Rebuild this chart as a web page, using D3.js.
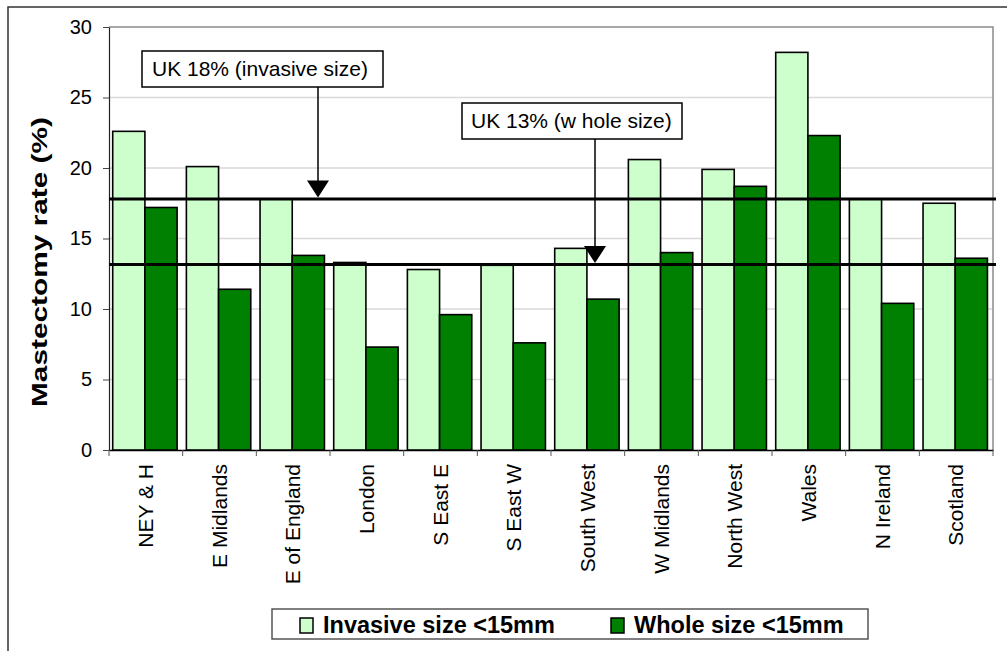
<!DOCTYPE html>
<html>
<head>
<meta charset="utf-8">
<script src="https://cdn.jsdelivr.net/npm/d3@7"></script>
<style>
  html, body { margin: 0; padding: 0; background: #fff; }
  svg { display: block; font-family: "Liberation Sans", Arial, sans-serif; }
</style>
</head>
<body>
<svg id="chart" width="1007" height="651"></svg>
<script>
// ---- data ----
const categories = ["NEY & H", "E Midlands", "E of England", "London", "S East E", "S East W",
                    "South West", "W Midlands", "North West", "Wales", "N Ireland", "Scotland"];
const seriesNames = ["Invasive size <15mm", "Whole size <15mm"];
const invasiveValues = [22.6, 20.1, 17.8, 13.3, 12.8, 13.1, 14.3, 20.6, 19.9, 28.2, 17.8, 17.5];
const wholeValues    = [17.2, 11.4, 13.8, 7.3, 9.6, 7.6, 10.7, 14.0, 18.7, 22.3, 10.4, 13.6];
const yTicks = [0, 5, 10, 15, 20, 25, 30];
const refValues = [17.8, 13.15];
const refLabels = ["UK 18% (invasive size)", "UK 13% (w hole size)"];
const seriesColors = ["#ccffcc", "#008000"];

// ---- layout ----
const svg = d3.select("#chart");
const plot = { left: 109, right: 993, top: 27, bottom: 450 };

const x = d3.scaleBand().domain(categories).range([plot.left, plot.right]).paddingInner(0).paddingOuter(0);
const xSub = d3.scaleBand().domain(seriesNames).range([0, x.bandwidth()])
  .paddingInner(0).paddingOuter(0.144).align(0.4);
const y = d3.scaleLinear().domain([0, 30]).range([plot.bottom, plot.top]);

// outer frame (cropped: only top and left visible)
svg.append("path").attr("d", "M8,651 L8,7 L1007,7")
  .attr("fill", "none").attr("stroke", "#333").attr("stroke-width", 1.5);

// gridlines
svg.append("g").selectAll("line").data(yTicks.filter(t => t > 0 && t < 30)).join("line")
  .attr("x1", plot.left).attr("x2", plot.right)
  .attr("y1", d => y(d)).attr("y2", d => y(d))
  .attr("stroke", "#d9d9d9").attr("stroke-width", 1.5);

// plot border (top/right gray)
svg.append("path").attr("d", `M${plot.left},${plot.top} L${plot.right},${plot.top} L${plot.right},${plot.bottom}`)
  .attr("fill", "none").attr("stroke", "#8c8c8c").attr("stroke-width", 1.5);

// y axis
const yAxis = svg.append("g").attr("transform", `translate(${plot.left},0)`)
  .call(d3.axisLeft(y).tickValues(yTicks).tickSize(6).tickPadding(11).tickSizeOuter(0));
yAxis.select(".domain").attr("stroke", "#222").attr("stroke-width", 1.2);
yAxis.selectAll(".tick line").attr("stroke", "#444");
yAxis.selectAll(".tick text").attr("font-size", 20).attr("fill", "#000")
  .attr("font-family", "'Liberation Sans', Arial, sans-serif");

// x axis
const xAxis = svg.append("g").attr("transform", `translate(0,${plot.bottom})`)
  .call(d3.axisBottom(x).tickSize(0).tickFormat(""));
xAxis.select(".domain").attr("stroke", "#000").attr("stroke-width", 1.5);
// tick marks at band boundaries
const bounds = categories.map(c => x(c)).concat([plot.right]);
svg.append("g").selectAll("line").data(bounds).join("line")
  .attr("x1", d => d).attr("x2", d => d)
  .attr("y1", plot.bottom).attr("y2", plot.bottom + 6)
  .attr("stroke", "#555").attr("stroke-width", 1);

// category labels
svg.append("g").selectAll("text").data(categories).join("text")
  .attr("transform", d => `translate(${x(d) + x.bandwidth() / 2 + 7},464) rotate(-90)`)
  .attr("text-anchor", "end")
  .attr("font-size", 21)
  .attr("fill", "#000")
  .text(d => d);

// bars
const rows = categories.map((c, i) => ({ cat: c, vals: [invasiveValues[i], wholeValues[i]] }));
const groups = svg.append("g").selectAll("g").data(rows).join("g")
  .attr("transform", d => `translate(${x(d.cat)},0)`);
groups.selectAll("rect").data(d => d.vals.map((v, j) => ({ s: seriesNames[j], v, j }))).join("rect")
  .attr("x", d => xSub(d.s))
  .attr("width", xSub.bandwidth())
  .attr("y", d => y(d.v))
  .attr("height", d => y(0) - y(d.v))
  .attr("fill", d => seriesColors[d.j])
  .attr("stroke", "#000").attr("stroke-width", 1.6);

// reference lines
svg.append("g").selectAll("line").data(refValues).join("line")
  .attr("x1", plot.left).attr("x2", 996)
  .attr("y1", d => y(d)).attr("y2", d => y(d))
  .attr("stroke", "#000").attr("stroke-width", 3);

// annotations with arrows
const annos = [
  { text: refLabels[0], ref: refValues[0], bx: 142, by: 51, bw: 241, bh: 36, tx: 152, ax: 318 },
  { text: refLabels[1], ref: refValues[1], bx: 462, by: 103, bw: 220, bh: 36, tx: 471, ax: 595 }
];
const ag = svg.append("g");
annos.forEach(a => {
  const tip = y(a.ref) - 1.5;
  ag.append("line").attr("x1", a.ax).attr("x2", a.ax)
    .attr("y1", a.by + a.bh).attr("y2", tip - 16)
    .attr("stroke", "#000").attr("stroke-width", 1.5);
  ag.append("path").attr("d", `M${a.ax - 11},${tip - 17} L${a.ax + 11},${tip - 17} L${a.ax},${tip} Z`)
    .attr("fill", "#000");
  ag.append("rect").attr("x", a.bx).attr("y", a.by).attr("width", a.bw).attr("height", a.bh)
    .attr("fill", "#fff").attr("stroke", "#000").attr("stroke-width", 1.5);
  ag.append("text").attr("x", a.tx).attr("y", a.by + 25)
    .attr("font-size", 21).attr("fill", "#000").text(a.text);
});

// y axis title
svg.append("text")
  .attr("transform", `translate(47,262) rotate(-90)`)
  .attr("text-anchor", "middle")
  .attr("font-size", 22).attr("font-weight", "bold").attr("fill", "#000")
  .attr("textLength", 290).attr("lengthAdjust", "spacingAndGlyphs")
  .text("Mastectomy rate (%)");

// legend
const lg = svg.append("g");
lg.append("rect").attr("x", 272).attr("y", 609).attr("width", 596).attr("height", 30)
  .attr("fill", "#fff").attr("stroke", "#555").attr("stroke-width", 1.5);
const legendItems = [
  { name: seriesNames[0], color: seriesColors[0], ix: 300, tx: 323 },
  { name: seriesNames[1], color: seriesColors[1], ix: 611, tx: 634 }
];
legendItems.forEach(it => {
  lg.append("rect").attr("x", it.ix).attr("y", 618).attr("width", 13).attr("height", 15)
    .attr("fill", it.color).attr("stroke", "#000").attr("stroke-width", 1.5);
  lg.append("text").attr("x", it.tx).attr("y", 633)
    .attr("font-size", 23.5).attr("font-weight", "bold").attr("fill", "#000").text(it.name);
});
</script>
</body>
</html>
